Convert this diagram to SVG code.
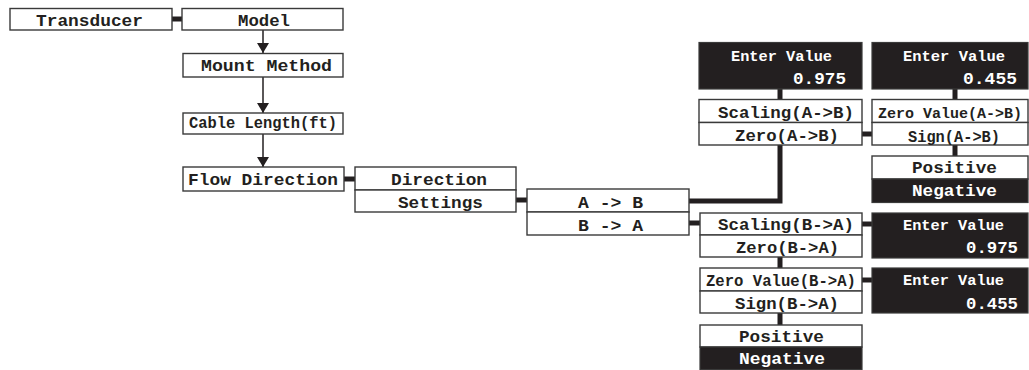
<svg xmlns="http://www.w3.org/2000/svg" width="1029" height="370" viewBox="0 0 1029 370">
<defs>
<style>
.b{fill:#fff;stroke:#3a3a3a;stroke-width:1.4}
.k{fill:#231f20;stroke:#3a3a3a;stroke-width:1.2}
text{font-family:"Liberation Mono","Courier New",monospace;font-weight:bold;font-size:17px;fill:#231f20}
.w{fill:#fff}
.s{font-size:14.5px}
.n{font-size:15px}
.c{fill:none;stroke:#231f20;stroke-width:5}
.a{fill:none;stroke:#231f20;stroke-width:1.5}
</style>
<marker id="ah" markerWidth="10" markerHeight="12" refX="10" refY="6" orient="auto" markerUnits="userSpaceOnUse" viewBox="0 0 10 12">
<path d="M0,0 L10,6 L0,12 Z" fill="#231f20"/>
</marker>
</defs>
<rect width="1029" height="370" fill="#fff"/>
<g id="connectors">
<line class="c" x1="171" y1="19" x2="183" y2="19"/>
<line class="a" x1="263" y1="30" x2="263" y2="53" marker-end="url(#ah)"/>
<line class="a" x1="263" y1="77" x2="263" y2="113" marker-end="url(#ah)"/>
<line class="a" x1="263" y1="134" x2="263" y2="167" marker-end="url(#ah)"/>
<line class="c" x1="344" y1="179" x2="355" y2="179"/>
<line class="c" x1="516" y1="200" x2="527" y2="200"/>
<polyline class="c" points="689,201 780,201 780,145"/>
<line class="c" x1="780" y1="89" x2="780" y2="99.5"/>
<line class="c" x1="955" y1="89" x2="955" y2="99.5"/>
<line class="c" x1="862" y1="134" x2="872" y2="134"/>
<line class="c" x1="955" y1="145" x2="955" y2="156"/>
<line class="c" x1="689" y1="223" x2="700" y2="223"/>
<line class="c" x1="862" y1="224" x2="872" y2="224"/>
<line class="c" x1="780" y1="257" x2="780" y2="268"/>
<line class="c" x1="862" y1="280" x2="872" y2="280"/>
<line class="c" x1="780" y1="313" x2="780" y2="325"/>
</g>
<g id="transducer"><rect class="b" x="10" y="8.5" width="162" height="21.5"/><text x="36" y="26" textLength="107" lengthAdjust="spacingAndGlyphs">Transducer</text></g>
<g id="model"><rect class="b" x="182" y="8.5" width="161" height="21.5"/><text x="238" y="26" textLength="52" lengthAdjust="spacingAndGlyphs">Model</text></g>
<g id="mount-method"><rect class="b" x="183" y="53.5" width="160" height="23.5"/><text x="201" y="71" textLength="131" lengthAdjust="spacingAndGlyphs">Mount Method</text></g>
<g id="cable-length"><rect class="b" x="183" y="113" width="160" height="21"/><text x="189" y="127.5" textLength="148" lengthAdjust="spacingAndGlyphs">Cable Length(ft)</text></g>
<g id="flow-direction"><rect class="b" x="183" y="167" width="161" height="24"/><text x="188" y="185" textLength="150" lengthAdjust="spacingAndGlyphs">Flow Direction</text></g>
<g id="direction-settings">
<rect class="b" x="355" y="167" width="161" height="23"/><text x="391" y="185" textLength="96" lengthAdjust="spacingAndGlyphs">Direction</text>
<rect class="b" x="355" y="190" width="161" height="22"/><text x="398" y="207.5" textLength="85" lengthAdjust="spacingAndGlyphs">Settings</text>
</g>
<g id="ab-ba">
<rect class="b" x="527" y="189" width="162" height="23"/><text x="578" y="207.7" textLength="65" lengthAdjust="spacingAndGlyphs">A -&gt; B</text>
<rect class="b" x="527" y="212" width="162" height="23"/><text x="578" y="230.7" textLength="65" lengthAdjust="spacingAndGlyphs">B -&gt; A</text>
</g>
<g id="enter-value-a1"><rect class="k" x="699" y="42.5" width="163" height="46.5"/><text class="w s" x="731" y="61" textLength="101" lengthAdjust="spacingAndGlyphs">Enter Value</text><text class="w" x="793" y="84" textLength="53" lengthAdjust="spacingAndGlyphs">0.975</text></g>
<g id="enter-value-a2"><rect class="k" x="872" y="42.5" width="156" height="46.5"/><text class="w s" x="903" y="61" textLength="102" lengthAdjust="spacingAndGlyphs">Enter Value</text><text class="w" x="963" y="84" textLength="54" lengthAdjust="spacingAndGlyphs">0.455</text></g>
<g id="scaling-zero-ab">
<rect class="b" x="699" y="99.5" width="163" height="23"/><text x="718" y="117.5" textLength="136" lengthAdjust="spacingAndGlyphs">Scaling(A-&gt;B)</text>
<rect class="b" x="699" y="122.5" width="163" height="22.5"/><text x="735" y="141" textLength="104" lengthAdjust="spacingAndGlyphs">Zero(A-&gt;B)</text>
</g>
<g id="zerovalue-sign-ab">
<rect class="b" x="872" y="99.5" width="156" height="23"/><text class="n" x="878" y="117.5" textLength="144" lengthAdjust="spacingAndGlyphs">Zero Value(A-&gt;B)</text>
<rect class="b" x="872" y="122.5" width="156" height="22.5"/><text x="908" y="141.5" textLength="92" lengthAdjust="spacingAndGlyphs">Sign(A-&gt;B)</text>
</g>
<g id="sign-ab-options">
<rect class="b" x="872" y="156" width="156" height="23"/><text x="912" y="172.7" textLength="85" lengthAdjust="spacingAndGlyphs">Positive</text>
<rect class="k" x="872" y="179" width="156" height="23.5"/><text class="w" x="912" y="196" textLength="85" lengthAdjust="spacingAndGlyphs">Negative</text>
</g>
<g id="scaling-zero-ba">
<rect class="b" x="700" y="213" width="162" height="22"/><text x="718" y="230" textLength="136" lengthAdjust="spacingAndGlyphs">Scaling(B-&gt;A)</text>
<rect class="b" x="700" y="235" width="162" height="22"/><text x="736" y="253.3" textLength="103" lengthAdjust="spacingAndGlyphs">Zero(B-&gt;A)</text>
</g>
<g id="zerovalue-sign-ba">
<rect class="b" x="700" y="268" width="162" height="23"/><text x="706" y="286" textLength="150" lengthAdjust="spacingAndGlyphs">Zero Value(B-&gt;A)</text>
<rect class="b" x="700" y="291" width="162" height="22"/><text x="735" y="309" textLength="104" lengthAdjust="spacingAndGlyphs">Sign(B-&gt;A)</text>
</g>
<g id="sign-ba-options">
<rect class="b" x="700" y="325" width="162" height="22"/><text x="739" y="341.7" textLength="85" lengthAdjust="spacingAndGlyphs">Positive</text>
<rect class="k" x="700" y="347" width="162" height="22.5"/><text class="w" x="739" y="364" textLength="86" lengthAdjust="spacingAndGlyphs">Negative</text>
</g>
<g id="enter-value-b1"><rect class="k" x="872" y="213" width="156" height="45"/><text class="w s" x="903" y="229.5" textLength="101" lengthAdjust="spacingAndGlyphs">Enter Value</text><text class="w" x="966" y="252.5" textLength="52" lengthAdjust="spacingAndGlyphs">0.975</text></g>
<g id="enter-value-b2"><rect class="k" x="872" y="268" width="156" height="45"/><text class="w s" x="903" y="285" textLength="101" lengthAdjust="spacingAndGlyphs">Enter Value</text><text class="w" x="966" y="308.5" textLength="52" lengthAdjust="spacingAndGlyphs">0.455</text></g>
</svg>
